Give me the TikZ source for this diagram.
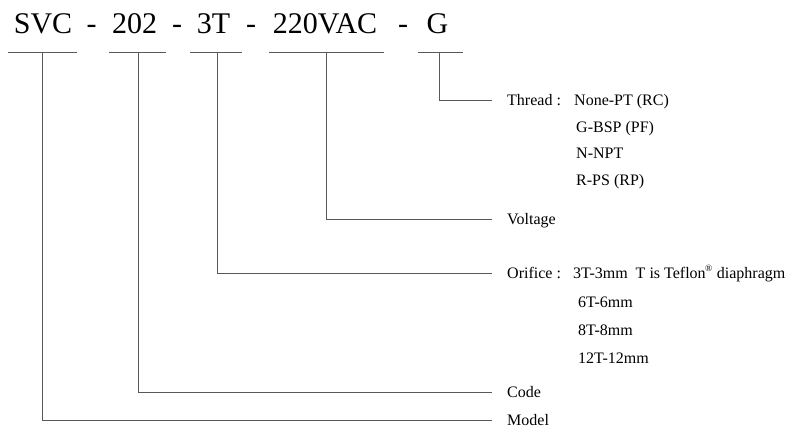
\documentclass[tikz,border=0pt]{standalone}
\usepackage{fontspec}
\setmainfont{Liberation Serif}
\begin{document}
\begin{tikzpicture}[x=1pt,y=-1pt,
  big/.style={font=\fontsize{30}{34}\selectfont, inner sep=0pt, anchor=base},
  lbl/.style={font=\fontsize{16}{18}\selectfont, inner sep=0pt, anchor=base west},
  ln/.style={draw=black!65, line width=0.9pt}]
\useasboundingbox (0,0) rectangle (791,431);
% title codes
\node[big] (svc) at (43,33) {SVC};
\node[big] (h1) at (91.5,33) {-};
\node[big] (n202) at (134.5,33) {202};
\node[big] (h2) at (177,33) {-};
\node[big] (n3t) at (213.5,33) {3T};
\node[big] (h3) at (251,33) {-};
\node[big] (vac) at (325,33) {220VAC};
\node[big] (h4) at (403,33) {-};
\node[big] (g) at (437.5,33) {G};
% underlines
\coordinate (u1a) at (8,52);   \coordinate (u1b) at (77,52);  \coordinate (t1) at (42,52);
\coordinate (u2a) at (109,52); \coordinate (u2b) at (166,52); \coordinate (t2) at (138,52);
\coordinate (u3a) at (190,52); \coordinate (u3b) at (242,52); \coordinate (t3) at (217,52);
\coordinate (u4a) at (269,52); \coordinate (u4b) at (384,52); \coordinate (t4) at (326,52);
\coordinate (u5a) at (418,52); \coordinate (u5b) at (463,52); \coordinate (t5) at (439,52);
\foreach \i in {1,...,5} {\draw[ln] (u\i a) -- (u\i b);}
% line ends
\coordinate (e5) at (492,100);
\coordinate (e4) at (492,219);
\coordinate (e3) at (492,273);
\coordinate (e2) at (492,392);
\coordinate (e1) at (492,420);
\draw[ln] (t5) |- (e5);
\draw[ln] (t4) |- (e4);
\draw[ln] (t3) |- (e3);
\draw[ln] (t2) |- (e2);
\draw[ln] (t1) |- (e1);
% labels
\node[lbl] (thread) at (507,105) {Thread :};
\node[lbl] (th1) at (574,105) {None-PT (RC)};
\node[lbl] (th2) at (576,132) {G-BSP (PF)};
\node[lbl] (th3) at (576,158) {N-NPT};
\node[lbl] (th4) at (576,185) {R-PS (RP)};
\node[lbl] (volt) at (507,224) {Voltage};
\node[lbl] (orif) at (507,278) {Orifice :};
\node[lbl] (or1) at (573,278) {3T-3mm\ \ T is Teflon\textsuperscript{\kern-0.5pt\fontsize{9.5}{10}\selectfont ®} diaphragm};
\node[lbl] (or2) at (578,307) {6T-6mm};
\node[lbl] (or3) at (578,335) {8T-8mm};
\node[lbl] (or4) at (578,363) {12T-12mm};
\node[lbl] (code) at (507,397) {Code};
\node[lbl] (model) at (507,425) {Model};
\end{tikzpicture}
\end{document}
